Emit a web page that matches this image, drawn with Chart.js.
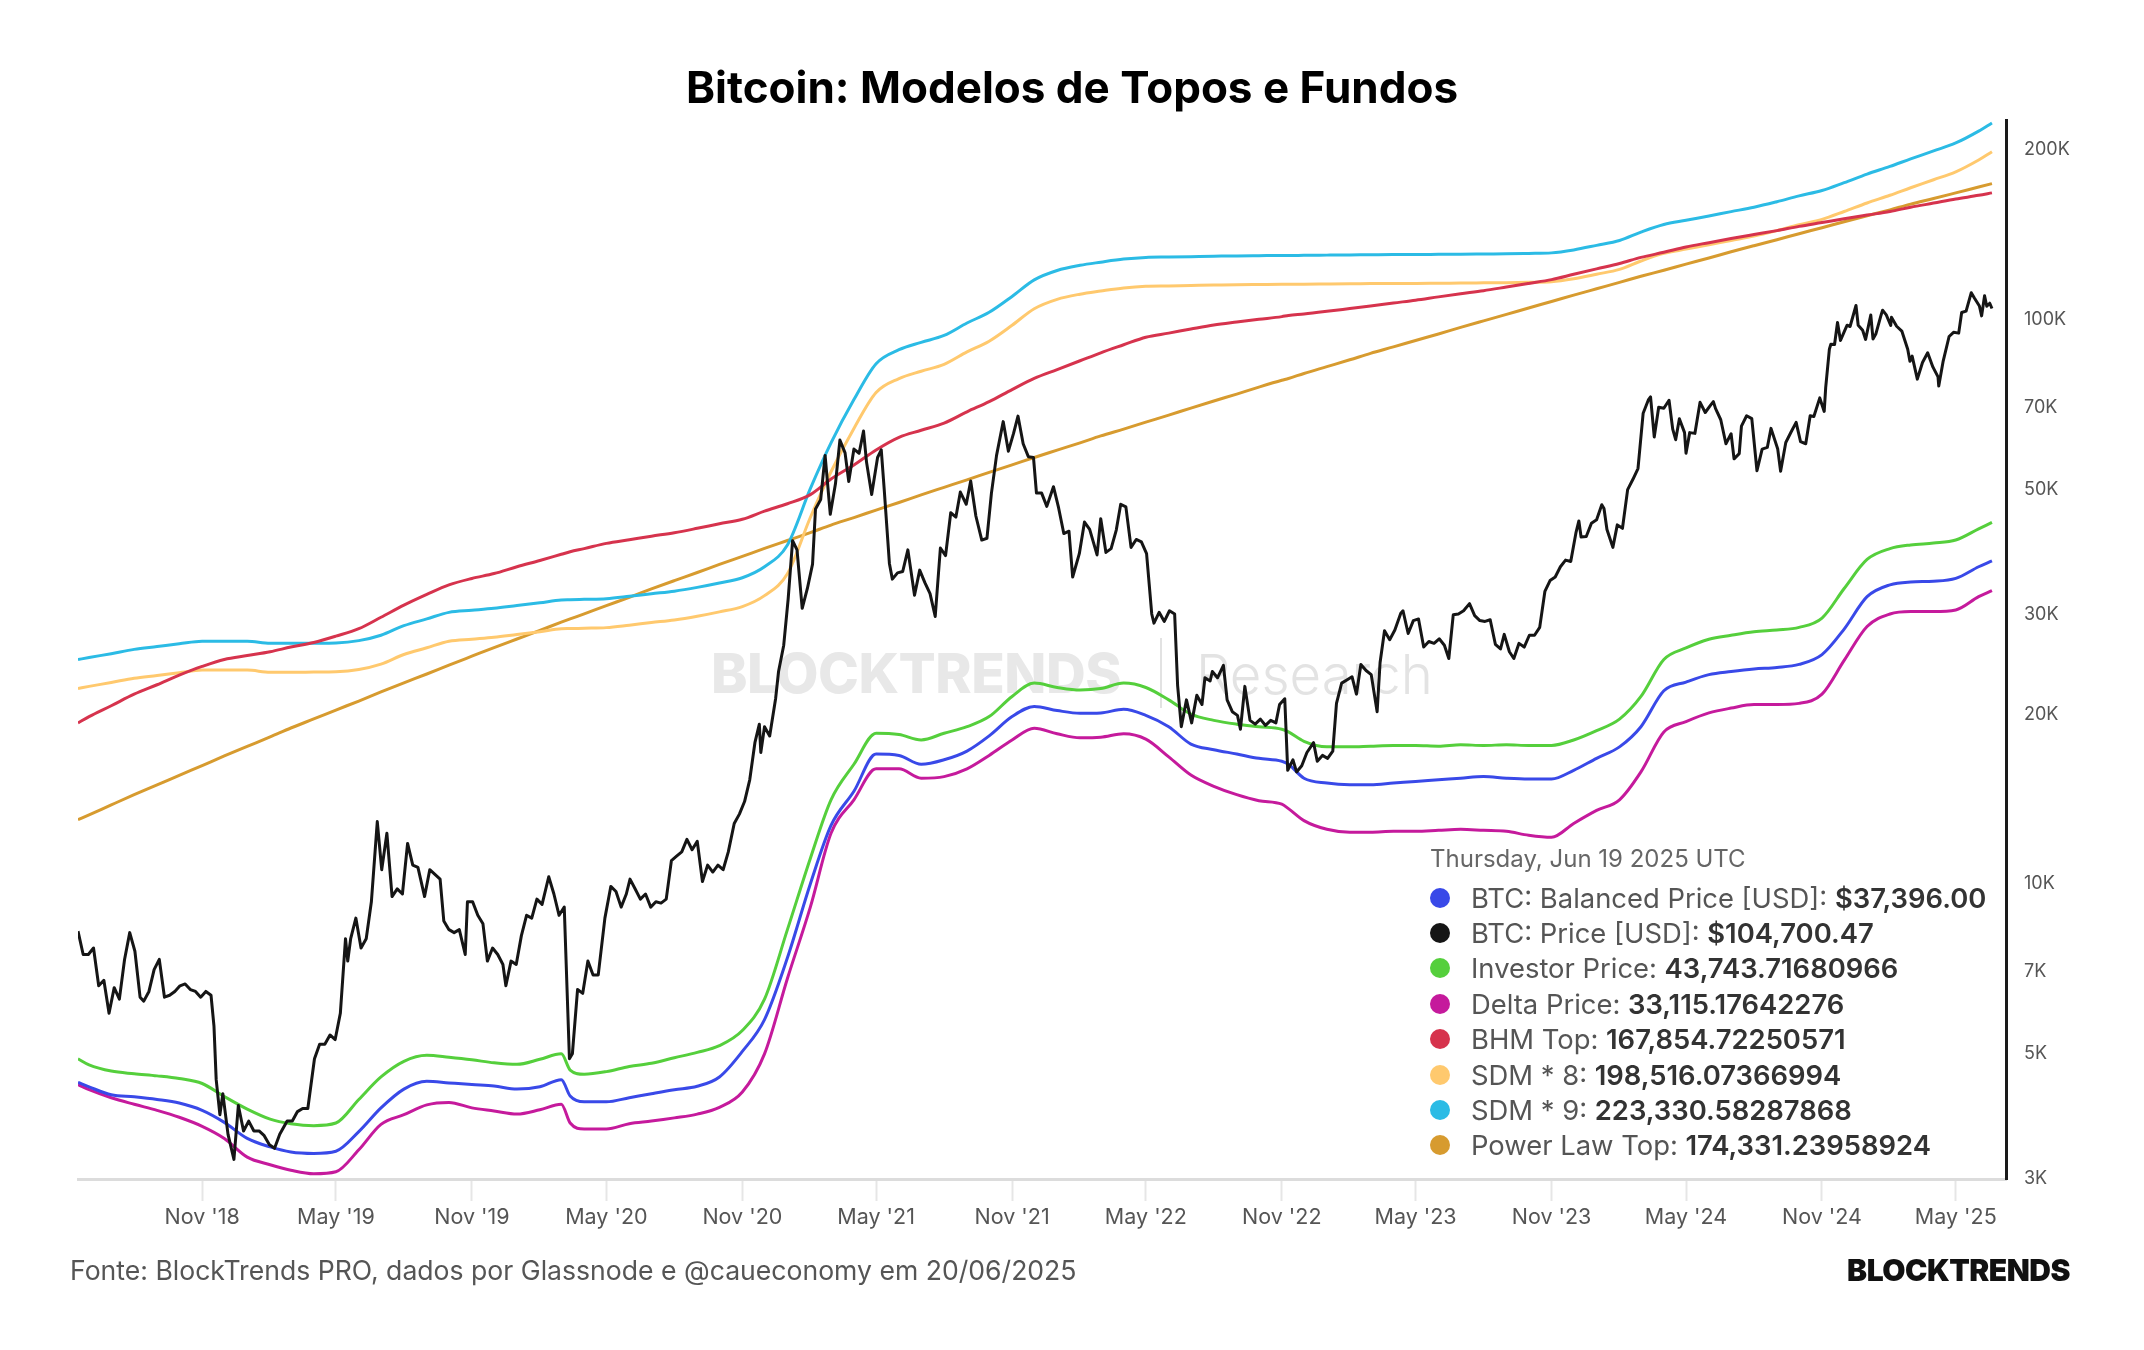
<!DOCTYPE html>
<html>
<head>
<meta charset="utf-8">
<script src="https://cdn.jsdelivr.net/npm/chart.js@4.4.1/dist/chart.umd.min.js"></script>
<style>
  html, body { margin:0; padding:0; background:#fff; }
  body { width:2144px; height:1350px; position:relative; overflow:hidden; font-family: Inter, "Noto Sans", sans-serif; }
  #title { position:absolute; left:0; top:64px; width:2144px; text-align:center; font-size:44px; line-height:46px; font-weight:700; color:#000; z-index:3; }
  #wm { position:absolute; left:711px; top:636px; height:74px; z-index:0; white-space:nowrap; }
  #wm .b { position:absolute; left:0; top:6px; font-size:55px; line-height:62px; font-weight:800; color:#e8e8e8; letter-spacing:-0.5px; }
  #wm .bar { position:absolute; left:449px; top:2px; width:2px; height:70px; background:#e2e2e2; }
  #wm .r { position:absolute; left:485px; top:7px; font-size:54.5px; line-height:62px; font-weight:300; color:#e3e3e3; }
  #chart { position:absolute; left:0; top:0; z-index:1; }
  #legend { position:absolute; left:1430px; top:843px; z-index:2; color:#555; }
  #legend .t { font-size:24px; line-height:32px; color:#666; margin-bottom:5px; white-space:nowrap; }
  #legend .row { height:35.4px; display:flex; align-items:center; white-space:nowrap; font-size:27.4px; }
  #legend .dot { width:20px; height:20px; border-radius:50%; margin-right:21px; flex:none; }
  #legend .v { font-weight:600; color:#333; margin-left:0.28em; }
  #footer { position:absolute; left:70px; top:1255px; font-size:26.6px; line-height:30px; color:#555; z-index:3; white-space:nowrap; }
  #logo { position:absolute; right:74px; top:1252px; font-size:30px; line-height:36px; font-weight:900; color:#111; letter-spacing:-0.5px; z-index:3; }
</style>
</head>
<body>
<div id="title">Bitcoin: Modelos de Topos e Fundos</div>
<div id="wm"><span class="b">BLOCKTRENDS</span><span class="bar"></span><span class="r">Research</span></div>
<canvas id="chart" width="2144" height="1350"></canvas>
<div id="legend"></div>
<div id="footer">Fonte: BlockTrends PRO, dados por Glassnode e @caueconomy em 20/06/2025</div>
<div id="logo">BLOCKTRENDS</div>

<script>
// ---------------- DATA ----------------
const xTickDates = ['2018-11-01','2019-05-01','2019-11-01','2020-05-01','2020-11-01','2021-05-01','2021-11-01','2022-05-01','2022-11-01','2023-05-01','2023-11-01','2024-05-01','2024-11-01','2025-05-01'];
const xTickLabels = ["Nov '18","May '19","Nov '19","May '20","Nov '20","May '21","Nov '21","May '22","Nov '22","May '23","Nov '23","May '24","Nov '24","May '25"];
const yTickValues = [3000,5000,7000,10000,20000,30000,50000,70000,100000,200000];
const yTickLabels = ['3K','5K','7K','10K','20K','30K','50K','70K','100K','200K'];

const modelDates = [
'2018-05-17','2018-06-01','2018-07-01','2018-08-01','2018-09-01','2018-10-01','2018-11-01','2018-12-01',
'2019-01-01','2019-02-01','2019-03-01','2019-04-01','2019-05-01','2019-06-01','2019-07-01','2019-08-01','2019-09-01','2019-10-01','2019-11-01','2019-12-01',
'2020-01-01','2020-02-01','2020-03-01','2020-03-13','2020-04-01','2020-05-01','2020-06-01','2020-07-01','2020-08-01','2020-09-01','2020-10-01','2020-11-01','2020-12-01',
'2021-01-01','2021-02-01','2021-03-01','2021-04-01','2021-05-01','2021-06-01','2021-07-01','2021-08-01','2021-09-01','2021-10-01','2021-11-01','2021-12-01',
'2022-01-01','2022-02-01','2022-03-01','2022-04-01','2022-05-01','2022-06-01','2022-07-01','2022-08-01','2022-09-01','2022-10-01','2022-11-01','2022-11-10','2022-12-01',
'2023-01-01','2023-02-01','2023-03-01','2023-04-01','2023-05-01','2023-06-01','2023-07-01','2023-08-01','2023-09-01','2023-10-01','2023-11-01','2023-12-01',
'2024-01-01','2024-02-01','2024-03-01','2024-04-01','2024-05-01','2024-06-01','2024-07-01','2024-08-01','2024-09-01','2024-10-01','2024-11-01','2024-12-01',
'2025-01-01','2025-02-01','2025-03-01','2025-04-01','2025-05-01','2025-06-01','2025-06-19'
];

const balancedPrice = [
4450,4370,4230,4195,4150,4090,3970,3780,
3540,3420,3350,3330,3360,3640,4010,4330,4470,4440,4410,4385,
4330,4370,4500,4210,4110,4110,4180,4250,4320,4380,4550,5050,5750,
7400,10000,12700,14600,17000,16900,16300,16600,17200,18300,19800,20640,
20300,20070,20100,20400,19900,19000,17700,17300,17000,16700,16500,16300,15400,
15100,15000,15000,15100,15200,15300,15400,15500,15400,15350,15350,15900,
16700,17500,19000,22000,22800,23500,23800,24050,24200,24500,25500,28300,
32300,33900,34300,34400,34800,36500,37396
];

const investorPrice = [
4900,4780,4660,4610,4570,4520,4430,4200,
3990,3830,3760,3730,3770,4150,4550,4850,4970,4930,4880,4820,
4790,4890,5000,4680,4600,4650,4750,4810,4920,5030,5170,5500,6250,
8300,11100,14100,16300,18500,18400,18000,18500,19000,19800,21500,22700,
22300,22070,22200,22700,22300,21200,20000,19500,19200,19000,18800,18600,17900,
17500,17500,17550,17600,17600,17550,17650,17600,17650,17600,17600,18000,
18700,19600,21500,25000,26200,27150,27600,28000,28200,28500,29600,33400,
37600,39300,39900,40200,40700,42600,43744
];

const deltaPrice = [
4410,4320,4180,4070,3970,3860,3720,3540,
3280,3180,3110,3065,3090,3380,3750,3900,4060,4100,4010,3960,
3910,3980,4070,3770,3680,3680,3760,3800,3850,3910,4020,4280,5000,
6800,9100,12300,14100,16000,16000,15400,15500,16000,16900,18000,18880,
18460,18160,18200,18460,18060,16800,15600,14900,14400,14050,13850,13600,12950,
12500,12350,12350,12400,12400,12450,12500,12450,12400,12200,12100,12800,
13500,14100,15800,18600,19400,20100,20500,20800,20800,20900,21700,24900,
28600,30100,30400,30400,30600,32300,33115
];

const bhmTop = [
19300,19800,20700,21700,22550,23450,24300,25000,
25400,25800,26300,26800,27500,28350,29700,31200,32600,33900,34800,35500,
36500,37450,38400,38800,39300,40150,40750,41350,41940,42700,43500,44300,45800,
47200,49000,52200,55300,58800,61900,63700,65600,68700,71600,75200,78700,
81600,84600,87400,90300,93150,94700,96300,97900,99100,100200,101300,101800,102400,
103500,104700,105800,107100,108300,109800,111200,112600,114300,116000,117800,120400,
123100,125800,129000,131700,134600,137000,139300,141600,143900,146400,148700,151000,
153300,155600,158300,161000,163700,166200,167855
];

const sdm8 = [
22210,22400,22760,23160,23420,23690,23940,23940,
23940,23730,23730,23750,23780,24000,24530,25510,26220,26930,27160,27380,
27690,28000,28330,28360,28400,28470,28760,29070,29370,29820,30360,31020,32440,
35470,44620,53780,64180,74310,78670,81070,83380,87730,91640,97780,104620,
108710,111020,112440,113870,114670,114840,115020,115200,115380,115470,115560,115560,115640,
115730,115820,115910,116000,116000,116090,116180,116270,116360,116530,116800,118220,
120440,122840,127110,131110,133420,135820,138220,140710,143910,147380,150670,155560,
161070,166220,171380,177070,182930,192000,198516
];

const sdm9 = [
24990,25200,25600,26050,26350,26650,26930,26930,
26930,26700,26700,26720,26750,27000,27600,28700,29500,30300,30550,30800,
31150,31500,31870,31900,31950,32030,32350,32700,33040,33550,34150,34900,36500,
39900,50200,60500,72200,83600,88500,91200,93800,98700,103100,110000,117700,
122300,124900,126500,128100,129000,129200,129400,129600,129800,129900,130000,130000,130100,
130200,130300,130400,130500,130500,130600,130700,130800,130900,131100,131400,133000,
135500,138200,143000,147500,150100,152800,155500,158300,161900,165800,169500,175000,
181200,187000,192800,199200,205800,216000,223331
];

const powerLawTop = [
13000,13260,13810,14395,14980,15580,16214,16860,
17530,18221,18900,19610,20338,21100,21900,22726,23560,24430,25336,26240,
27180,28151,29110,29500,30110,31144,32220,33340,34488,35650,36850,38084,39330,
40620,41956,43270,44610,46002,47450,48940,50468,52040,53660,55324,57010,
58740,60521,62250,64020,65853,67770,69750,71792,73840,75960,78122,78700,80330,
82600,84932,87200,89530,91913,94390,96940,99559,102220,104940,107740,110580,
113500,116486,119420,122430,125506,128700,131970,135309,138670,142110,145621,149200,
152870,156630,160300,164050,167870,171930,174331
];

const priceDates = [
'2018-05-17','2018-05-24','2018-05-31','2018-06-07','2018-06-14','2018-06-21','2018-06-28','2018-07-05','2018-07-12','2018-07-19','2018-07-26','2018-08-02','2018-08-09','2018-08-14','2018-08-21','2018-08-28','2018-09-04','2018-09-11','2018-09-18','2018-09-25','2018-10-02','2018-10-09','2018-10-16','2018-10-23','2018-10-30','2018-11-06','2018-11-13','2018-11-17','2018-11-20','2018-11-25','2018-11-29','2018-12-06','2018-12-14','2018-12-20','2018-12-27',
'2019-01-03','2019-01-10','2019-01-17','2019-01-24','2019-01-31','2019-02-07','2019-02-14','2019-02-24','2019-03-03','2019-03-10','2019-03-17','2019-03-24','2019-04-02','2019-04-09','2019-04-16','2019-04-23','2019-04-30','2019-05-07','2019-05-14','2019-05-17','2019-05-21','2019-05-28','2019-06-04','2019-06-11','2019-06-18','2019-06-26','2019-07-02','2019-07-09','2019-07-16','2019-07-23','2019-07-30','2019-08-06','2019-08-13','2019-08-20','2019-08-29','2019-09-05','2019-09-12','2019-09-19','2019-09-24','2019-10-01','2019-10-08','2019-10-15','2019-10-23','2019-10-26','2019-11-02','2019-11-09','2019-11-16','2019-11-22','2019-11-29','2019-12-06','2019-12-13','2019-12-17','2019-12-24','2019-12-31',
'2020-01-07','2020-01-14','2020-01-21','2020-01-28','2020-02-04','2020-02-13','2020-02-20','2020-02-27','2020-03-05','2020-03-12','2020-03-16','2020-03-23','2020-03-30','2020-04-06','2020-04-13','2020-04-20','2020-04-29','2020-05-07','2020-05-14','2020-05-21','2020-05-28','2020-06-02','2020-06-09','2020-06-16','2020-06-23','2020-06-30','2020-07-07','2020-07-14','2020-07-21','2020-07-28','2020-08-04','2020-08-11','2020-08-18','2020-08-25','2020-09-01','2020-09-08','2020-09-15','2020-09-22','2020-09-29','2020-10-06','2020-10-13','2020-10-21','2020-10-28','2020-11-04','2020-11-11','2020-11-18','2020-11-24','2020-11-26','2020-12-01','2020-12-08','2020-12-16','2020-12-20','2020-12-27',
'2021-01-02','2021-01-08','2021-01-14','2021-01-21','2021-01-28','2021-02-04','2021-02-08','2021-02-15','2021-02-21','2021-02-28','2021-03-07','2021-03-13','2021-03-20','2021-03-25','2021-04-01','2021-04-08','2021-04-14','2021-04-18','2021-04-25','2021-05-03','2021-05-08','2021-05-12','2021-05-19','2021-05-23','2021-05-30','2021-06-06','2021-06-13','2021-06-22','2021-06-29','2021-07-06','2021-07-13','2021-07-20','2021-07-27','2021-08-03','2021-08-10','2021-08-17','2021-08-23','2021-08-31','2021-09-06','2021-09-13','2021-09-21','2021-09-28','2021-10-04','2021-10-11','2021-10-20','2021-10-27','2021-11-03','2021-11-09','2021-11-16','2021-11-23','2021-11-30','2021-12-04','2021-12-11','2021-12-18','2021-12-27',
'2022-01-03','2022-01-10','2022-01-17','2022-01-22','2022-01-31','2022-02-07','2022-02-14','2022-02-24','2022-03-01','2022-03-08','2022-03-15','2022-03-22','2022-03-28','2022-04-04','2022-04-11','2022-04-18','2022-04-25','2022-05-02','2022-05-09','2022-05-12','2022-05-19','2022-05-26','2022-06-02','2022-06-09','2022-06-13','2022-06-18','2022-06-25','2022-07-02','2022-07-09','2022-07-16','2022-07-20','2022-07-27','2022-07-30','2022-08-06','2022-08-14','2022-08-19','2022-08-26','2022-09-02','2022-09-06','2022-09-12','2022-09-19','2022-09-26','2022-10-03','2022-10-10','2022-10-17','2022-10-24','2022-10-29','2022-11-05','2022-11-09','2022-11-16','2022-11-21','2022-11-28','2022-12-05','2022-12-14','2022-12-19','2022-12-26',
'2023-01-02','2023-01-09','2023-01-14','2023-01-21','2023-01-28','2023-02-04','2023-02-10','2023-02-16','2023-02-23','2023-03-02','2023-03-10','2023-03-14','2023-03-20','2023-03-27','2023-04-03','2023-04-11','2023-04-14','2023-04-21','2023-04-28','2023-05-05','2023-05-12','2023-05-19','2023-05-26','2023-06-02','2023-06-09','2023-06-15','2023-06-21','2023-06-28','2023-07-05','2023-07-13','2023-07-20','2023-07-27','2023-08-03','2023-08-10','2023-08-17','2023-08-24','2023-08-29','2023-09-05','2023-09-11','2023-09-18','2023-09-25','2023-10-02','2023-10-09','2023-10-16','2023-10-23','2023-10-30','2023-11-06','2023-11-13','2023-11-20','2023-11-27','2023-12-04','2023-12-08','2023-12-11','2023-12-18','2023-12-25',
'2024-01-01','2024-01-08','2024-01-11','2024-01-15','2024-01-23','2024-01-29','2024-02-05','2024-02-12','2024-02-19','2024-02-26','2024-03-04','2024-03-11','2024-03-14','2024-03-19','2024-03-25','2024-04-01','2024-04-08','2024-04-13','2024-04-17','2024-04-22','2024-04-29','2024-05-01','2024-05-06','2024-05-13','2024-05-20','2024-05-27','2024-06-03','2024-06-07','2024-06-10','2024-06-17','2024-06-24','2024-07-01','2024-07-05','2024-07-12','2024-07-15','2024-07-22','2024-07-29','2024-08-05','2024-08-12','2024-08-19','2024-08-24','2024-09-02','2024-09-06','2024-09-13','2024-09-20','2024-09-27','2024-10-03','2024-10-10','2024-10-16','2024-10-21','2024-10-29','2024-11-04','2024-11-06','2024-11-11','2024-11-13','2024-11-18','2024-11-22','2024-11-26','2024-12-02','2024-12-05','2024-12-09','2024-12-17','2024-12-20','2024-12-26','2024-12-30',
'2025-01-06','2025-01-09','2025-01-13','2025-01-20','2025-01-22','2025-01-27','2025-02-02','2025-02-03','2025-02-10','2025-02-17','2025-02-25','2025-02-28','2025-03-03','2025-03-10','2025-03-17','2025-03-24','2025-03-31','2025-04-07','2025-04-08','2025-04-14','2025-04-22','2025-04-28','2025-05-05','2025-05-09','2025-05-15','2025-05-22','2025-05-26','2025-06-02','2025-06-05','2025-06-09','2025-06-12','2025-06-16','2025-06-19'
];

const priceValues = [
8250,7500,7500,7700,6600,6750,5900,6550,6250,7350,8200,7600,6300,6200,6450,7050,7350,6300,6350,6450,6600,6650,6500,6450,6300,6450,6350,5600,4500,3900,4250,3600,3250,4050,3650,
3800,3650,3650,3580,3450,3400,3600,3800,3800,3950,4000,4000,4900,5200,5200,5400,5300,5900,8000,7300,8000,8700,7700,8000,9300,12900,10600,12300,9500,9800,9600,11800,10800,10700,9500,10600,10400,10200,8600,8300,8200,8300,7500,9300,9300,8800,8500,7300,7700,7500,7200,6600,7300,7200,
8100,8800,8700,9400,9200,10300,9600,8800,9100,4900,5000,6500,6400,7300,6900,6900,8700,9900,9700,9100,9600,10200,9800,9400,9600,9100,9300,9250,9400,11000,11200,11400,12000,11500,11900,10100,10800,10500,10800,10600,11400,12800,13300,14000,15300,17800,19200,17100,19000,18300,21300,23800,26500,
32000,40600,39100,30800,33400,36900,46200,48000,57500,45200,51200,61200,58100,51700,59000,58000,63500,56000,49000,57000,58800,50000,37000,34700,35600,35800,39100,32500,36000,34200,32700,29800,39400,38200,45500,44700,49500,47100,51800,44900,40700,41000,49200,57500,66000,58500,62900,67500,60300,57200,57000,49300,49300,46700,50600,
46400,41800,42200,35000,38500,43800,42500,38300,44400,38700,39300,42400,47100,46600,39500,40800,40400,38500,30100,29000,30300,29200,30500,30100,22500,19000,21200,19300,21600,20800,23200,22900,23800,23200,24400,21200,20200,19900,18800,22400,19500,19200,19600,19100,19500,19300,20800,21300,15900,16600,15800,16200,17100,17800,16500,16900,
16700,17200,20900,22700,23000,23300,21700,24500,23900,23500,20200,24700,28100,27100,28200,30200,30500,27800,29300,29500,26300,26900,26700,27200,26500,25100,30000,30100,30500,31400,29900,29300,29200,29400,26600,26100,27700,25800,25100,26700,26300,27600,27600,28500,33000,34500,35000,36500,37500,37300,41900,44000,41200,41300,43600,
44200,47000,46300,42500,39500,43300,42700,50000,52100,54500,68300,72100,73000,62000,70000,69700,72000,64000,61300,66800,63100,58000,63100,62900,71400,68500,70500,71600,69600,66500,60300,62800,56700,57900,64800,67600,66800,54000,59000,59400,64200,59100,53900,60600,63200,65800,60800,60300,67600,67400,72700,68800,75800,88700,90500,90400,98900,91900,95900,97800,97300,106000,97800,95800,92300,
102000,92500,94500,102000,104000,102000,97700,101000,97400,95500,88700,84400,86200,78500,84000,87400,82500,79200,76300,84500,93400,95000,94700,103000,103600,111700,109400,105800,101600,110300,105700,107000,104700
];

const seriesLabels = ['BTC: Balanced Price [USD]','BTC: Price [USD]','Investor Price','Delta Price','BHM Top','SDM * 8','SDM * 9','Power Law Top'];
const legendValues = ['$37,396.00','$104,700.47','43,743.71680966','33,115.17642276','167,854.72250571','198,516.07366994','223,330.58287868','174,331.23958924'];
const seriesColors = ['#3949E8','#151515','#55CF3C','#C51A9C','#D6334D','#FFC96E','#2BBBE5','#D79B2F'];
const legendTitle = 'Thursday, Jun 19 2025 UTC';

// ---------------- BUILD ----------------
const T = s => Date.parse(s + 'T00:00:00Z');
const toPts = (dates, vals) => dates.map((d, i) => ({ x: T(d), y: vals[i] }));

const seriesData = [
  toPts(modelDates, balancedPrice),
  toPts(priceDates, priceValues),
  toPts(modelDates, investorPrice),
  toPts(modelDates, deltaPrice),
  toPts(modelDates, bhmTop),
  toPts(modelDates, sdm8),
  toPts(modelDates, sdm9),
  toPts(modelDates, powerLawTop)
];

const datasets = seriesData.map((data, i) => ({
  label: seriesLabels[i],
  data: data,
  borderColor: seriesColors[i],
  backgroundColor: seriesColors[i],
  borderWidth: 3,
  pointRadius: 0,
  pointHoverRadius: 0,
  fill: false,
  tension: 0,
  borderJoinStyle: 'round',
  cubicInterpolationMode: i === 1 ? 'default' : 'monotone',
  order: i === 1 ? -1 : i
}));

new Chart(document.getElementById('chart').getContext('2d'), {
  type: 'line',
  data: { datasets: datasets },
  options: {
    responsive: false,
    animation: false,
    parsing: false,
    events: [],
    layout: { autoPadding: false, padding: { left: 78, right: 38, top: 120, bottom: 111 } },
    plugins: { legend: { display: false }, tooltip: { enabled: false }, title: { display: false } },
    scales: {
      x: {
        type: 'linear',
        min: T('2018-05-17'),
        max: T('2025-07-08'),
        afterBuildTicks: s => { s.ticks = xTickDates.map(d => ({ value: T(d) })); },
        afterFit: s => { s.height = 60; },
        ticks: {
          autoSkip: false, maxRotation: 0, minRotation: 0, padding: 4,
          color: '#555', font: { family: 'Inter', size: 21.5 },
          callback: (v, i) => xTickLabels[i]
        },
        grid: { display: true, drawOnChartArea: false, drawTicks: true, tickLength: 22, tickColor: '#e6e6e6', tickWidth: 2 },
        border: { display: true, color: '#dcdcdc', width: 3 }
      },
      y: {
        type: 'logarithmic',
        position: 'right',
        min: 3000,
        max: 226000,
        afterBuildTicks: s => { s.ticks = yTickValues.map(v => ({ value: v })); },
        afterFit: s => { s.width = 100; },
        ticks: {
          autoSkip: false, padding: 18,
          color: '#555', font: { family: 'Inter', size: 18 },
          callback: (v, i) => yTickLabels[i]
        },
        grid: { display: false, drawTicks: false },
        border: { display: true, color: '#1a1a1a', width: 3 }
      }
    }
  }
});

// ---------------- LEGEND (tooltip-style box) ----------------
const lg = document.getElementById('legend');
const t = document.createElement('div');
t.className = 't';
t.textContent = legendTitle;
lg.appendChild(t);
seriesLabels.forEach((lab, i) => {
  const row = document.createElement('div');
  row.className = 'row';
  const dot = document.createElement('span');
  dot.className = 'dot';
  dot.style.background = seriesColors[i];
  const txt = document.createElement('span');
  txt.textContent = lab + ':';
  const val = document.createElement('span');
  val.className = 'v';
  val.textContent = legendValues[i];
  row.appendChild(dot);
  row.appendChild(txt);
  row.appendChild(val);
  lg.appendChild(row);
});
</script>
</body>
</html>
